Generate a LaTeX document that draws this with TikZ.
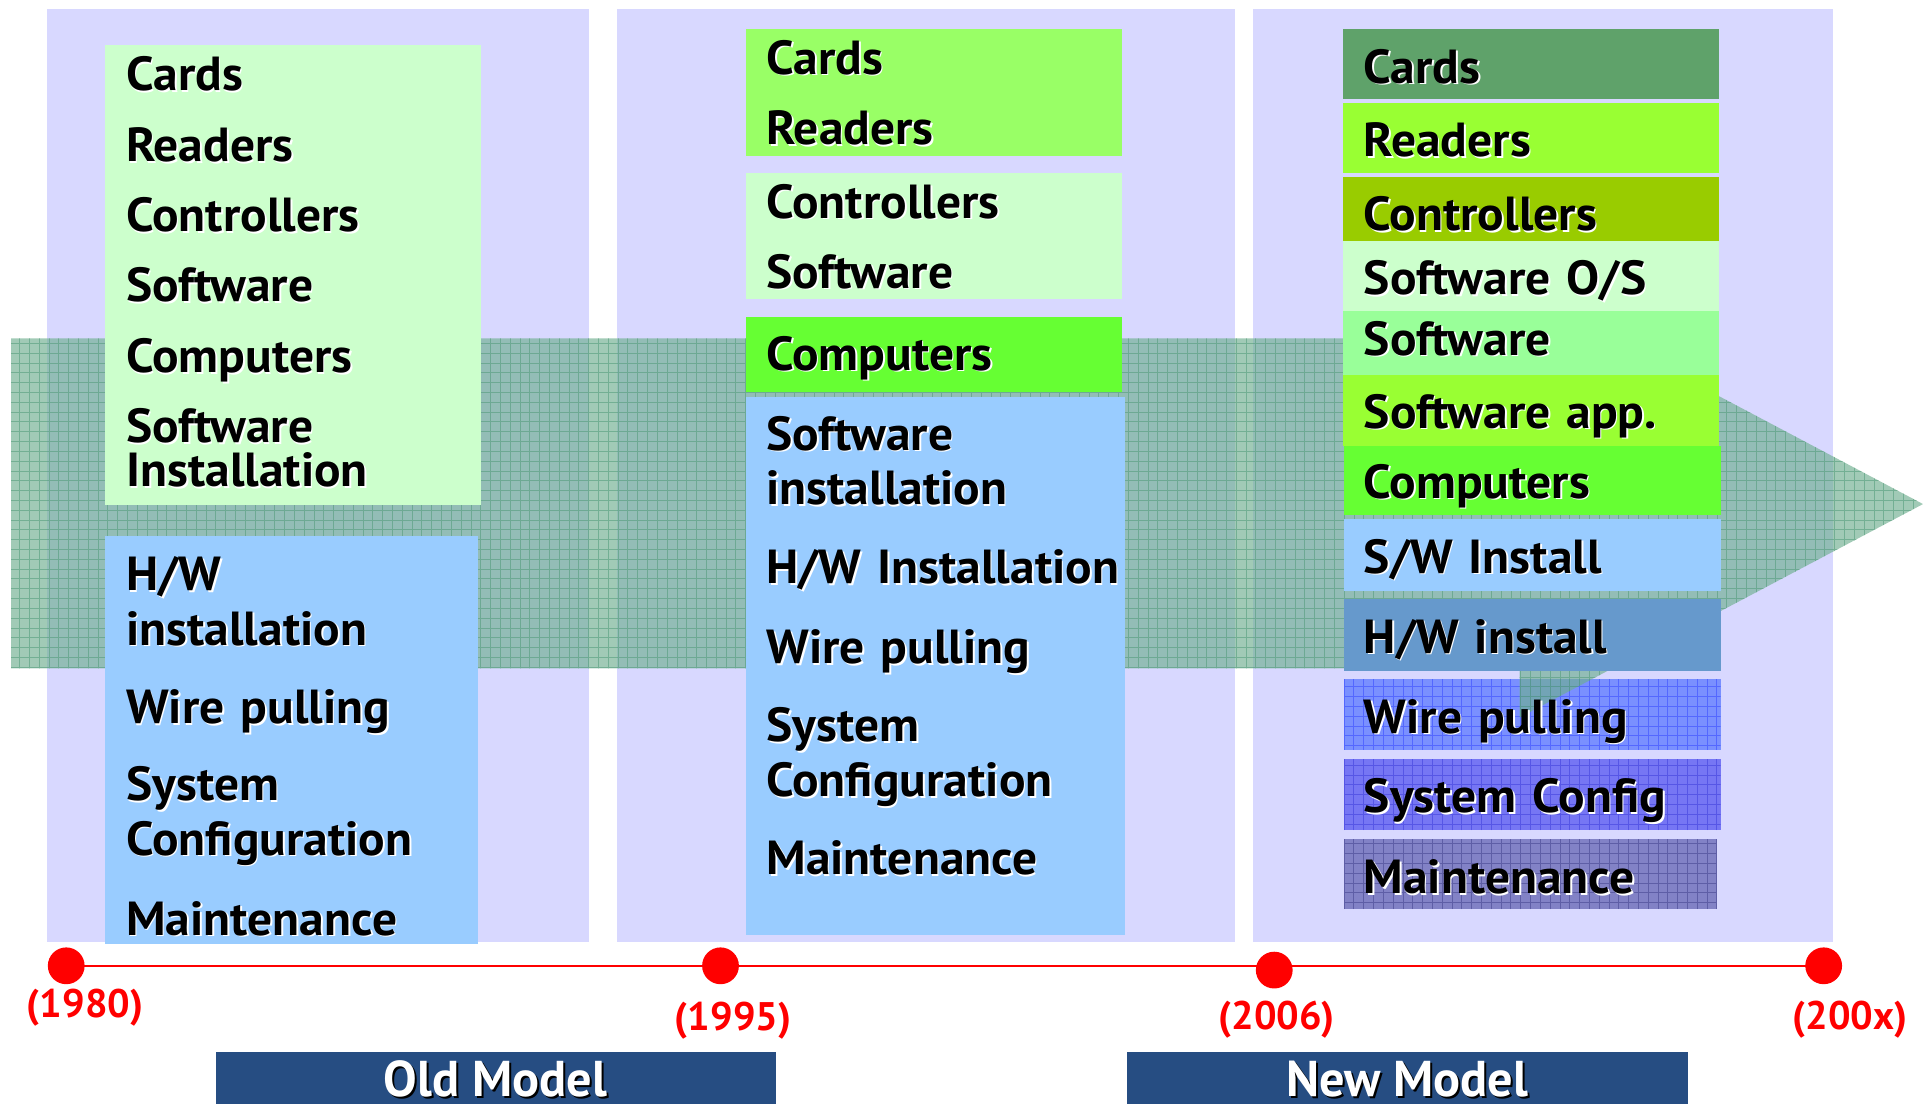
\documentclass[tikz,border=0pt]{standalone}
\usepackage{fontspec}
\setmainfont{PT Sans}
\newfontfamily\lblfont[FakeStretch=1.035]{PT Sans}
\usetikzlibrary{calc}
\definecolor{lav}{HTML}{D8D8FF}
\definecolor{bandc}{HTML}{6FAF8F}
\definecolor{bandgridc}{HTML}{4F9A78}
\definecolor{ltgreen}{HTML}{CCFFCC}
\definecolor{ltblue}{HTML}{99CCFF}
\definecolor{brgreen}{HTML}{99FF66}
\definecolor{compgreen}{HTML}{66FF33}
\definecolor{dkgreen}{HTML}{5FA26A}
\definecolor{ygreen}{HTML}{99FF33}
\definecolor{olive}{HTML}{99CC00}
\definecolor{mintgreen}{HTML}{99FF99}
\definecolor{hwblue}{HTML}{6699CC}
\definecolor{wireblue}{HTML}{7A90FF}
\definecolor{wiregrid}{HTML}{5468FF}
\definecolor{sysblue}{HTML}{7676F4}
\definecolor{sysgrid}{HTML}{5656E6}
\definecolor{maintc}{HTML}{8282C6}
\definecolor{maintgrid}{HTML}{5E5EA6}
\definecolor{barblue}{HTML}{264D82}
\newcommand\emb[1]{\leavevmode\rlap{\kern1.3pt\raisebox{-1.3pt}{\textcolor{white}{#1}}}#1}
\newcommand\embw[1]{\leavevmode\rlap{\kern1.6pt\raisebox{-1.6pt}{\textcolor{black}{#1}}}\textcolor{white}{#1}}
\begin{document}
\begin{tikzpicture}[x=1pt,y=-1pt,
  lbl/.style={anchor=base west, inner sep=0pt, outer sep=0pt, text width=300pt, align=left,
    font=\lblfont\fontsize{39}{44.5}\selectfont\bfseries},
  tight/.style={font=\lblfont\fontsize{39}{36}\selectfont\bfseries},
  year/.style={anchor=base, inner sep=0pt, text=red, font=\fontsize{32.5}{36}\selectfont\bfseries},
  dot/.style={circle, fill=red, inner sep=0pt, minimum size=30pt},
  barlbl/.style={anchor=base, inner sep=0pt, font=\fontsize{41}{44}\selectfont\bfseries},
  panel/.style={fill=lav},
  bandgrid/.style={draw=bandgridc, line width=0.7pt, opacity=0.55}
]
\useasboundingbox (0,0) rectangle (1568,900);
\fill[white] (0,0) rectangle (1568,900);

% panels
\path[panel] (38,7) rectangle (480,768);
\path[panel] (503,7) rectangle (1007,768);
\path[panel] (1022,7) rectangle (1495,768);

% textured boxes of the new model (under the arrow)
\fill[wireblue] (1096,553.8) rectangle (1403,611.2);
\begin{scope}
  \clip (1096,553.8) rectangle (1403,611.2);
  \draw[wiregrid, line width=0.8pt, step=8pt] (1096,553.8) grid (1403,611.2);
\end{scope}
\fill[sysblue] (1096,618.8) rectangle (1403,676.8);
\begin{scope}
  \clip (1096,618.8) rectangle (1403,676.8);
  \draw[sysgrid, line width=0.8pt, step=8pt] (1096,618.8) grid (1403,676.8);
\end{scope}
\fill[maintc] (1096,684) rectangle (1400,741.3);
\begin{scope}
  \clip (1096,684) rectangle (1400,741.3);
  \draw[maintgrid, line width=0.8pt, step=8pt] (1096,684) grid (1400,741.3);
\end{scope}

% the big arrow
\fill[bandc, opacity=0.65] (9,276) -- (1239,276) -- (1239,237) -- (1568,411) -- (1239,585) -- (1239,545) -- (9,545) -- cycle;
\begin{scope}
  \clip (9,276) -- (1239,276) -- (1239,237) -- (1568,411) -- (1239,585) -- (1239,545) -- (9,545) -- cycle;
  \draw[bandgrid, step=8pt] (0,232) grid (1568,592);
\end{scope}

% old model boxes
\fill[ltgreen] (86,37) rectangle (392,412);
\fill[ltblue] (86,437) rectangle (390,770);
% 1995 boxes
\fill[brgreen] (608,24) rectangle (915,127);
\fill[ltgreen] (608,141) rectangle (915,244);
\fill[compgreen] (608,258.5) rectangle (915,319.4);
\fill[ltblue] (608,323.5) rectangle (917,762);
% new model boxes
\fill[dkgreen] (1095,24) rectangle (1402,80.5);
\fill[ygreen] (1095,84.2) rectangle (1402,141.3);
\fill[olive] (1095,144.6) rectangle (1402,196.3);
\fill[ltgreen] (1095,196.3) rectangle (1402,253.3);
\fill[mintgreen] (1095,253.3) rectangle (1402,305.8);
\fill[ygreen] (1095,305.8) rectangle (1402,363.7);
\fill[compgreen] (1096,363.7) rectangle (1403,420);
\fill[ltblue] (1096,423.4) rectangle (1403,481.5);
\fill[hwblue] (1096,488.7) rectangle (1403,546.8);

% labels column 1
\node[lbl] (a1) at (103,74) {\emb{Cards}};
\node[lbl] (a2) at (103,132) {\emb{Readers}};
\node[lbl] (a3) at (103,189) {\emb{Controllers}};
\node[lbl] (a4) at (103,246) {\emb{Software}};
\node[lbl] (a5) at (103,304) {\emb{Computers}};
\node[lbl, tight] (a6) at (103,361) {\emb{Software}\\\emb{Installation}};
\node[lbl] (a7) at (103,481.5) {\emb{H/W}\\\emb{installation}};
\node[lbl] (a8) at (103,590) {\emb{Wire pulling}};
\node[lbl] (a9) at (103,652.7) {\emb{System}\\\emb{Configuration}};
\node[lbl] (a10) at (103,762.6) {\emb{Maintenance}};

% labels column 2
\node[lbl] (b1) at (625,60.4) {\emb{Cards}};
\node[lbl] (b2) at (625,118.2) {\emb{Readers}};
\node[lbl] (b3) at (625,178) {\emb{Controllers}};
\node[lbl] (b4) at (625,235) {\emb{Software}};
\node[lbl] (b5) at (625,301.7) {\emb{Computers}};
\node[lbl] (b6) at (625,367) {\emb{Software}\\\emb{installation}};
\node[lbl] (b7) at (625,476) {\emb{H/W Installation}};
\node[lbl] (b8) at (625,541.2) {\emb{Wire pulling}};
\node[lbl] (b9) at (625,605) {\emb{System}\\\emb{Configuration}};
\node[lbl] (b10) at (625,713) {\emb{Maintenance}};

% labels column 3
\node[lbl] (c1) at (1112,68) {\emb{Cards}};
\node[lbl] (c2) at (1112,127.8) {\emb{Readers}};
\node[lbl] (c3) at (1112,188) {\emb{Controllers}};
\node[lbl] (c4) at (1112,240.5) {\emb{Software O/S}};
\node[lbl] (c5) at (1112,289.5) {\emb{Software}};
\node[lbl] (c6) at (1112,349.3) {\emb{Software app.}};
\node[lbl] (c7) at (1112,406.3) {\emb{Computers}};
\node[lbl] (c8) at (1112,467.4) {\emb{S/W Install}};
\node[lbl] (c9) at (1112,532.7) {\emb{H/W install}};
\node[lbl] (c10) at (1112,597.7) {\emb{Wire pulling}};
\node[lbl] (c11) at (1112,662.8) {\emb{System Config}};
\node[lbl] (c12) at (1112,728.7) {\emb{Maintenance}};

% timeline
\coordinate (t1) at (54,787.5);
\coordinate (t4) at (1487,787.5);
\draw[red, line width=1.8pt] (t1) -- (t4);
\node[dot] (d1) at (t1) {};
\node[dot] (d2) at (587.5,787.5) {};
\node[dot] (d3) at (1039,791) {};
\node[dot] (d4) at (t4) {};

\node[year] (y1) at (69.4,830) {(1980)};
\node[year] (y2) at (597.7,840.5) {(1995)};
\node[year] (y3) at (1041,839.6) {(2006)};
\node[year] (y4) at (1508.5,839.6) {(200x)};

% model bars
\fill[barblue] (176,857.5) rectangle (632.5,900);
\fill[barblue] (919,857.5) rectangle (1376,900);
\node[barlbl] (om) at (404,894) {\embw{Old Model}};
\node[barlbl] (nm) at (1147.5,894) {\embw{New Model}};
\end{tikzpicture}
\end{document}
